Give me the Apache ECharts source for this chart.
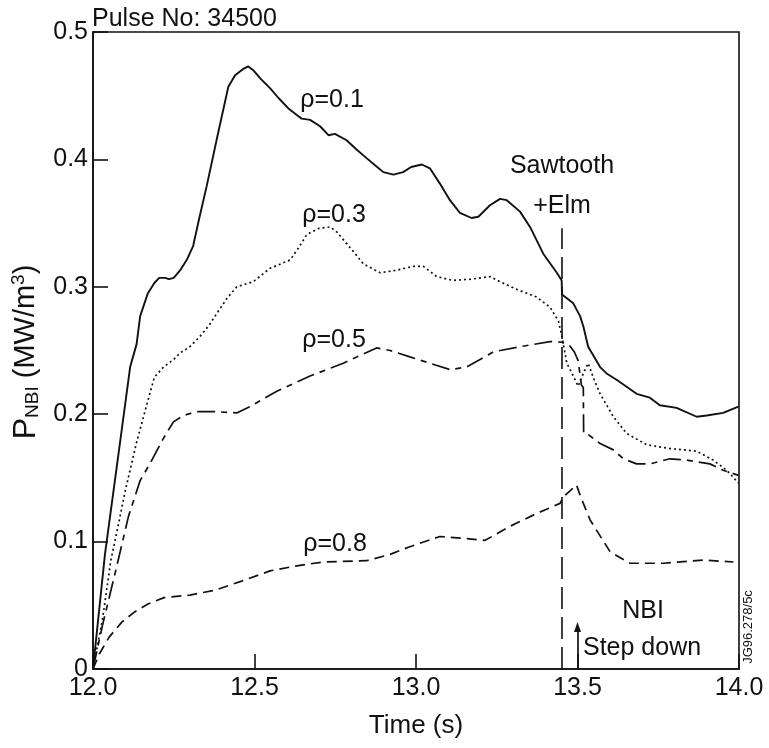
<!DOCTYPE html>
<html><head><meta charset="utf-8">
<script src="https://cdn.jsdelivr.net/npm/echarts@6/dist/echarts.min.js"></script>
<style>html,body{margin:0;padding:0;background:#fff}#c{width:769px;height:748px}</style>
</head><body><div id="c"></div>
<script>
// ---- data ----
const xTicks = [12.0, 12.5, 13.0, 13.5, 14.0];
const yTicks = [0, 0.1, 0.2, 0.3, 0.4, 0.5];

const t01 = [12.0,12.037,12.078,12.115,12.135,12.146,12.17,12.19,12.205,12.223,12.235,12.25,12.27,12.29,12.31,12.33,12.352,12.385,12.419,12.44,12.465,12.481,12.496,12.52,12.548,12.575,12.605,12.63,12.646,12.672,12.703,12.729,12.749,12.785,12.815,12.847,12.875,12.899,12.93,12.96,12.985,13.018,13.043,13.074,13.105,13.136,13.172,13.193,13.229,13.26,13.281,13.322,13.353,13.394,13.436,13.451,13.452,13.487,13.508,13.518,13.533,13.57,13.59,13.621,13.683,13.724,13.755,13.807,13.869,13.90,13.951,13.998];
const v01 = [0,0.090,0.167,0.237,0.255,0.277,0.295,0.303,0.307,0.307,0.306,0.307,0.313,0.321,0.332,0.355,0.379,0.418,0.457,0.466,0.471,0.473,0.470,0.463,0.456,0.448,0.440,0.435,0.432,0.431,0.426,0.419,0.420,0.415,0.408,0.401,0.395,0.390,0.388,0.390,0.394,0.396,0.393,0.381,0.368,0.358,0.354,0.355,0.364,0.369,0.368,0.359,0.347,0.326,0.311,0.305,0.294,0.287,0.277,0.269,0.253,0.237,0.232,0.227,0.216,0.213,0.207,0.205,0.198,0.199,0.201,0.206];

const t03 = [12.0,12.03,12.055,12.08,12.10,12.135,12.166,12.19,12.218,12.25,12.269,12.30,12.331,12.36,12.383,12.415,12.445,12.496,12.548,12.61,12.635,12.662,12.70,12.734,12.755,12.775,12.805,12.837,12.889,12.94,12.99,13.023,13.064,13.115,13.17,13.229,13.26,13.312,13.373,13.415,13.441,13.451,13.467,13.487,13.502,13.518,13.533,13.55,13.57,13.611,13.652,13.714,13.786,13.869,13.92,13.962,13.998];
const v03 = [0,0.040,0.085,0.115,0.140,0.178,0.207,0.229,0.237,0.243,0.248,0.253,0.261,0.270,0.279,0.291,0.300,0.304,0.3145,0.321,0.330,0.341,0.346,0.347,0.343,0.337,0.328,0.318,0.311,0.313,0.316,0.316,0.308,0.305,0.306,0.308,0.304,0.298,0.292,0.284,0.273,0.262,0.240,0.230,0.222,0.232,0.240,0.228,0.216,0.198,0.185,0.176,0.173,0.171,0.164,0.156,0.146];

const t05 = [12.0,12.03,12.073,12.11,12.146,12.176,12.218,12.249,12.28,12.32,12.38,12.445,12.486,12.569,12.672,12.775,12.878,12.92,12.981,13.043,13.105,13.157,13.24,13.322,13.415,13.451,13.475,13.49,13.502,13.512,13.518,13.519,13.533,13.57,13.611,13.642,13.683,13.724,13.786,13.838,13.91,13.951,13.998];
const v05 = [0,0.035,0.080,0.120,0.148,0.161,0.181,0.194,0.199,0.202,0.202,0.201,0.206,0.218,0.230,0.240,0.252,0.250,0.245,0.240,0.235,0.237,0.249,0.253,0.257,0.2565,0.254,0.249,0.242,0.223,0.221,0.185,0.184,0.177,0.172,0.165,0.161,0.161,0.165,0.164,0.161,0.156,0.152];

const t08 = [12.0,12.02,12.05,12.09,12.13,12.17,12.22,12.30,12.38,12.46,12.548,12.631,12.713,12.847,12.92,12.981,13.074,13.146,13.214,13.291,13.373,13.446,13.456,13.497,13.51,13.539,13.601,13.663,13.766,13.89,13.983];
const v08 = [0,0.012,0.025,0.037,0.045,0.051,0.056,0.058,0.062,0.069,0.077,0.081,0.084,0.085,0.090,0.096,0.104,0.1026,0.101,0.112,0.122,0.130,0.135,0.1444,0.135,0.117,0.092,0.083,0.083,0.0855,0.084];

const seriesNames = ['ρ=0.1', 'ρ=0.3', 'ρ=0.5', 'ρ=0.8'];
const eventTime = 13.451;      // Sawtooth + Elm
const eventTop = 0.346;
const stepTime = 13.5;         // NBI step down
const stepTop = 0.033;

// ---- chart ----
const FONT = "'Liberation Sans', Arial, sans-serif";
const INK = '#111';
const zip = (t, v) => t.map((x, i) => [x, v[i]]);

const chart = echarts.init(document.getElementById('c'), null, {renderer: 'canvas'});
const lineBase = {type: 'line', showSymbol: false, symbol: 'none', animation: false, smooth: false, z: 3};
const txt = (text, x, y, size, align) => ({type: 'text', x: x, y: y,
  style: {text: text, font: `${size}px ${FONT}`, fill: INK, align: align || 'center', verticalAlign: 'middle'}});

chart.setOption({
  animation: false,
  backgroundColor: '#fff',
  grid: {left: 93, right: 30, top: 32, bottom: 79, show: true, borderColor: INK, borderWidth: 1.6, containLabel: false},
  xAxis: {
    type: 'value', min: xTicks[0], max: xTicks[xTicks.length - 1], interval: 0.5,
    axisLine: {show: true, lineStyle: {color: INK, width: 1.6}},
    axisTick: {show: true, inside: true, length: 15, lineStyle: {color: INK, width: 1.6}},
    axisLabel: {color: INK, fontFamily: FONT, fontSize: 25, margin: 7, formatter: v => v.toFixed(1)},
    splitLine: {show: false},
    name: 'Time (s)', nameLocation: 'middle', nameGap: 44,
    nameTextStyle: {color: INK, fontFamily: FONT, fontSize: 26}
  },
  yAxis: {
    type: 'value', min: yTicks[0], max: yTicks[yTicks.length - 1], interval: 0.1,
    axisLine: {show: true, lineStyle: {color: INK, width: 1.6}},
    axisTick: {show: true, inside: true, length: 15, lineStyle: {color: INK, width: 1.6}},
    axisLabel: {color: INK, fontFamily: FONT, fontSize: 25, margin: 5, formatter: v => v === 0 ? '0' : v.toFixed(1)},
    splitLine: {show: false}
  },
  series: [
    Object.assign({}, lineBase, {name: seriesNames[0], data: zip(t01, v01), lineStyle: {color: INK, width: 1.9, type: 'solid'},
      markLine: {silent: true, symbol: ['none', 'none'], label: {show: false}, animation: false,
        lineStyle: {color: INK, width: 1.6, type: [22, 8]},
        data: [[{coord: [eventTime, 0]}, {coord: [eventTime, eventTop]}]]}}),
    Object.assign({}, lineBase, {name: seriesNames[1], data: zip(t03, v03), lineStyle: {color: INK, width: 1.7, type: [2, 3]},
      markLine: {silent: true, symbol: ['none', 'triangle'], symbolSize: [7, 10], label: {show: false}, animation: false,
        lineStyle: {color: INK, width: 1.7, type: 'solid'},
        data: [[{coord: [stepTime, 0]}, {coord: [stepTime, stepTop]}]]}}),
    Object.assign({}, lineBase, {name: seriesNames[2], data: zip(t05, v05), lineStyle: {color: INK, width: 1.7, type: [18, 6, 6, 6]}}),
    Object.assign({}, lineBase, {name: seriesNames[3], data: zip(t08, v08), lineStyle: {color: INK, width: 1.7, type: [10, 6]}})
  ],
  graphic: [
    txt('Pulse No: 34500', 92, 19, 25, 'left'),
    txt(seriesNames[0], 332, 100, 25),
    txt(seriesNames[1], 334, 215, 25),
    txt(seriesNames[2], 334, 340, 25),
    txt(seriesNames[3], 335, 544, 25),
    txt('Sawtooth', 562, 166, 25),
    txt('+Elm', 562, 206, 25),
    txt('NBI', 643, 611, 25),
    txt('Step down', 583, 648, 25, 'left'),
    {type: 'text', x: 748, y: 627, rotation: Math.PI / 2, style: {text: 'JG96.278/5c', font: `13px ${FONT}`, fill: INK, align: 'center', verticalAlign: 'middle'}},
    {type: 'text', x: 26, y: 352, rotation: Math.PI / 2, style: {
      text: '{p|P}{sub|NBI}{m| (MW/m}{sup|3}{m|)}', align: 'center', verticalAlign: 'middle', fill: INK,
      rich: {
        p: {fontFamily: FONT, fontSize: 32, lineHeight: 38, verticalAlign: 'middle', fill: INK},
        m: {fontFamily: FONT, fontSize: 29, lineHeight: 38, verticalAlign: 'middle', fill: INK},
        sub: {fontFamily: FONT, fontSize: 19, lineHeight: 38, verticalAlign: 'bottom', fill: INK, padding: [0, 0, 3, 0]},
        sup: {fontFamily: FONT, fontSize: 19, lineHeight: 38, verticalAlign: 'top', fill: INK, padding: [2, 0, 0, 0]}
      }}}
  ]
});
</script>
</body></html>
